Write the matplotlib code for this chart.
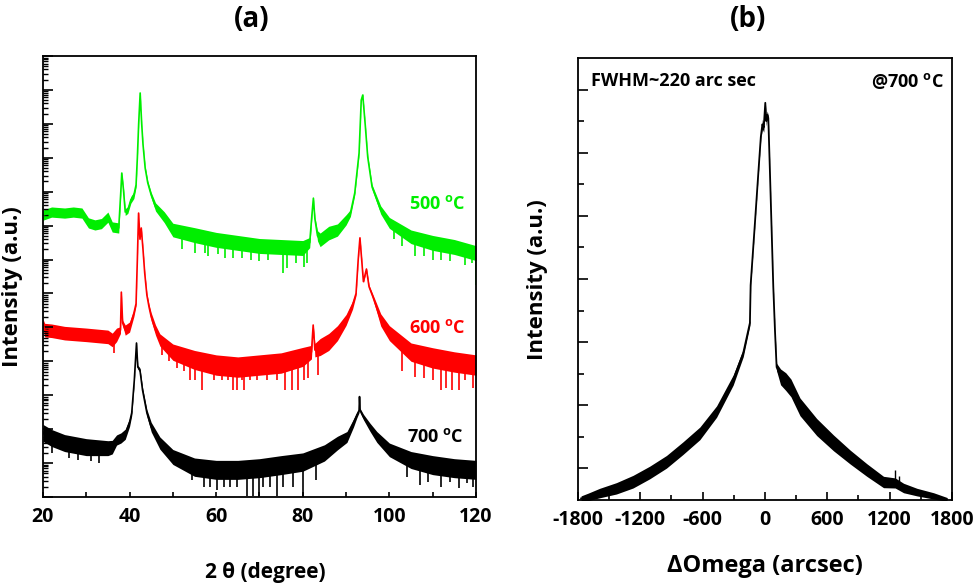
import numpy as np
import matplotlib
matplotlib.use('Agg')
import matplotlib.pyplot as plt
from matplotlib.ticker import LogLocator, NullFormatter, FixedLocator

plt.rcParams['font.family'] = ['Open Sans', 'DejaVu Sans']
plt.rcParams['font.weight'] = 'bold'
plt.rcParams['axes.unicode_minus'] = False
plt.rcParams['mathtext.fontset'] = 'custom'
plt.rcParams['mathtext.bf'] = 'Open Sans:bold'
plt.rcParams['mathtext.rm'] = 'Open Sans:bold'

# ---------------- Panel (a): XRD, log10 intensity (decades) ----------------
g_x = [20, 22, 25, 27, 29, 30.5, 32, 33.5, 35, 36, 37.5, 38.0, 38.2, 38.6, 39.0,
       39.6, 40.3, 41.0, 41.5, 41.8, 42.1, 42.45, 42.8, 43.1, 43.6, 44.2, 45, 46, 48, 50,
       55, 60, 65, 70, 75, 80, 81.6, 82.1, 82.45, 82.8, 83.4, 84, 86, 88, 90,
       91, 92, 93.0, 93.5, 93.85, 94.46, 95, 96, 98, 100, 105, 110, 115, 120]
g_m = [8.31, 8.40, 8.37, 8.40, 8.37, 8.08, 8.02, 8.06, 8.25, 7.96, 7.93, 9.05, 9.55, 9.05, 8.40,
       8.46, 8.76, 8.90, 9.20, 10.0, 11.0, 11.91, 11.0, 10.4, 9.7, 9.26, 8.90, 8.55, 8.25, 7.87,
       7.72, 7.58, 7.49, 7.40, 7.37, 7.34, 7.50, 8.30, 8.81, 8.20, 7.70, 7.58, 7.78, 7.87, 8.17,
       8.37, 8.96, 10.14, 11.70, 11.85, 10.91, 10.02, 9.14, 8.46, 8.08, 7.67, 7.49, 7.37, 7.19]
g_h = [0.15, 0.15, 0.15, 0.15, 0.15, 0.15, 0.15, 0.15, 0.15, 0.15, 0.15, 0.05, 0.04, 0.05, 0.1,
       0.1, 0.1, 0.1, 0.07, 0.04, 0.04, 0.04, 0.04, 0.04, 0.05, 0.06, 0.08, 0.12, 0.16, 0.2,
       0.22, 0.22, 0.22, 0.22, 0.22, 0.22, 0.15, 0.06, 0.04, 0.06, 0.15, 0.2, 0.2, 0.18, 0.15,
       0.1, 0.06, 0.04, 0.04, 0.04, 0.04, 0.05, 0.07, 0.12, 0.16, 0.2, 0.22, 0.22, 0.22]
g_sx = [52, 55, 57.5, 58, 60.5, 62, 64, 66, 68, 70, 72, 75.5, 76.3, 78.5, 80.2, 81,
        101, 103, 106, 108, 110, 112, 114, 117.5, 119, 120]
g_st = [7.8, 7.72, 7.65, 7.64, 7.57, 7.55, 7.5, 7.47, 7.43, 7.4, 7.39, 7.37, 7.36, 7.35, 7.36, 7.42,
        8.0, 7.85, 7.63, 7.56, 7.49, 7.44, 7.39, 7.28, 7.22, 7.19]
g_sb = [7.3, 7.2, 7.2, 7.1, 7.15, 7.05, 7.05, 7.05, 7.0, 6.95, 7.0, 6.6, 6.75, 6.9, 6.78, 6.9,
        7.6, 7.4, 7.1, 7.1, 7.0, 7.0, 6.95, 6.85, 6.9, 6.25]

r_x = [20, 20.4, 22, 25, 30, 35, 36, 37, 37.9, 38.1, 38.4, 39, 40, 41, 41.5,
       41.8, 42.08, 42.4, 42.7, 43.1, 43.5, 44, 44.5, 45, 46, 47, 50, 55, 60, 65,
       70, 75, 80, 82, 82.4, 82.8, 84, 86, 88, 90, 91.5, 92.3, 92.8, 93.2, 93.6,
       94.0, 94.7, 95.3, 96.2, 97, 98, 100, 105, 110, 115, 120]
r_m = [5.13, 4.92, 4.90, 4.83, 4.78, 4.72, 4.63, 4.78, 4.92, 6.04, 5.13, 4.92, 5.01, 5.42, 5.7,
       7.0, 8.37, 7.6, 7.93, 7.3, 6.6, 5.95, 5.6, 5.31, 4.92, 4.63, 4.27, 4.04, 3.89, 3.83,
       3.89, 3.95, 4.13, 4.27, 5.07, 4.33, 4.42, 4.57, 4.83, 5.22, 5.66, 6.0, 7.0, 7.64, 7.0,
       6.35, 6.72, 6.2, 5.9, 5.60, 5.22, 4.83, 4.27, 4.10, 3.98, 3.89]
r_h = [0.12, 0.2, 0.2, 0.2, 0.2, 0.2, 0.2, 0.2, 0.1, 0.03, 0.08, 0.15, 0.15, 0.1, 0.06,
       0.04, 0.04, 0.04, 0.04, 0.04, 0.05, 0.06, 0.08, 0.12, 0.15, 0.18, 0.24, 0.28, 0.3, 0.3,
       0.3, 0.3, 0.28, 0.2, 0.04, 0.2, 0.25, 0.25, 0.22, 0.16, 0.12, 0.06, 0.04, 0.04, 0.04,
       0.04, 0.04, 0.05, 0.07, 0.12, 0.18, 0.22, 0.27, 0.3, 0.3, 0.3]
r_sx = [36.3, 47.5, 49, 51, 52.5, 54, 55.1, 56.7, 59.4, 61.3, 62.8, 64, 64.8, 65.9, 66.5,
        67.8, 69.4, 71.7, 74, 75.9, 77.5, 79, 80.2, 81.3, 83.6,
        103, 106, 108, 110, 112, 113, 114.5, 116, 117.5, 119.4]
r_st = [4.68, 4.55, 4.37, 4.22, 4.15, 4.08, 4.03, 3.99, 3.91, 3.87, 3.85, 3.84, 3.83, 3.84, 3.85,
        3.86, 3.88, 3.91, 3.94, 3.96, 4.02, 4.08, 4.14, 4.2, 4.39,
        4.5, 4.24, 4.17, 4.10, 4.05, 4.03, 3.99, 3.96, 3.93, 3.9]
r_sb = [4.24, 4.2, 4.0, 3.8, 3.7, 3.45, 3.45, 3.15, 3.45, 3.45, 3.45, 3.15, 3.15, 3.45, 3.15,
        3.45, 3.45, 3.45, 3.45, 3.15, 3.15, 3.15, 3.45, 3.5, 3.6,
        3.7, 3.55, 3.5, 3.45, 3.15, 3.2, 3.15, 3.15, 3.45, 3.2]

k_x = [20, 22, 25, 30, 35, 36, 37, 38, 39, 40, 40.5, 41.1, 41.6, 41.9, 42.4,
       43, 44, 45, 47, 50, 55, 60, 65, 70, 75, 80, 85, 88, 90.2, 91.7,
       92.5, 93.0, 93.1, 93.25, 94, 95.5, 97.1, 100, 105, 110, 115, 120]
k_m = [1.89, 1.74, 1.59, 1.47, 1.44, 1.47, 1.68, 1.74, 1.85, 2.2, 2.48, 3.45, 4.54, 3.83, 3.74,
       3.15, 2.48, 2.06, 1.59, 1.18, 0.88, 0.80, 0.80, 0.85, 0.94, 1.03, 1.30, 1.59, 1.77, 2.18,
       2.42, 2.55, 2.96, 2.55, 2.36, 2.06, 1.77, 1.39, 1.09, 0.94, 0.85, 0.80]
k_h = [0.25, 0.25, 0.25, 0.25, 0.22, 0.2, 0.15, 0.15, 0.15, 0.12, 0.08, 0.06, 0.04, 0.06, 0.06,
       0.08, 0.1, 0.14, 0.18, 0.22, 0.27, 0.28, 0.28, 0.28, 0.28, 0.27, 0.24, 0.2, 0.16, 0.12,
       0.08, 0.06, 0.03, 0.06, 0.08, 0.12, 0.16, 0.2, 0.25, 0.28, 0.28, 0.28]
k_sx = [22, 26, 28, 31, 33, 54.4, 57.1, 58.6, 60.1, 61.7, 63.2, 64.8, 67.1, 68.6, 69.8,
        70.9, 72.5, 74, 75.5, 77.8, 80.1, 83, 104, 107, 109, 112, 114, 116, 118, 119.4]
k_st = [1.74, 1.57, 1.52, 1.46, 1.45, 0.92, 0.85, 0.82, 0.80, 0.80, 0.80, 0.80, 0.82, 0.84, 0.85,
        0.87, 0.9, 0.92, 0.95, 0.99, 1.03, 1.19, 1.15, 1.03, 0.97, 0.9, 0.87, 0.84, 0.82, 0.8]
k_sb = [1.3, 1.15, 1.1, 1.05, 1.0, 0.5, 0.3, 0.3, 0.2, 0.3, 0.3, 0.3, 0.02, 0.02, 0.02,
        0.3, 0.3, 0.02, 0.3, 0.3, 0.02, 0.5, 0.6, 0.35, 0.45, 0.3, 0.45, 0.27, 0.4, 0.3]

a_xticks = [20, 40, 60, 80, 100, 120]
a_labels = ['500 $^{\\mathbf{o}}$C', '600 $^{\\mathbf{o}}$C', '700 $^{\\mathbf{o}}$C']

# ---------------- Panel (b): rocking curve ----------------
w_x = [-1770, -1700, -1591, -1430, -1270, -1110, -948, -790, -627, -466,
       -306, -209, -145, -138, -96, -64, -40, -25, -12, 3,
       12, 22, 32, 48, 80, 96, 112, 150, 200, 250,
       273, 337, 498, 659, 820, 980, 1141, 1253, 1334, 1463, 1623, 1752]
w_m = [0.05, 0.1, 0.22, 0.37, 0.58, 0.87, 1.21, 1.64, 2.11, 2.80,
       3.80, 4.66, 5.61, 6.81, 8.81, 10.36, 11.5, 11.9, 11.8, 12.58,
       12.0, 12.2, 12.1, 10.36, 6.75, 5.38, 4.21, 3.90, 3.75, 3.55,
       3.39, 2.95, 2.31, 1.81, 1.36, 0.95, 0.57, 0.54, 0.38, 0.25, 0.13, 0.02]
w_h = [0.08, 0.12, 0.15, 0.18, 0.2, 0.2, 0.2, 0.2, 0.2, 0.18,
       0.16, 0.12, 0.08, 0.05, 0.04, 0.04, 0.06, 0.15, 0.15, 0.05,
       0.15, 0.12, 0.06, 0.04, 0.04, 0.06, 0.12, 0.25, 0.28, 0.28,
       0.28, 0.28, 0.27, 0.25, 0.22, 0.2, 0.18, 0.16, 0.15, 0.12, 0.1, 0.06]
w_sx = [1253, 1290]
w_st = [0.95, 0.75]
w_sb = [0.5, 0.45]
b_xticks = [-1800, -1200, -600, 0, 600, 1200, 1800]

GREEN = '#00ee00'
RED = '#ff0000'
BLACK = '#000000'

fig = plt.figure(figsize=(9.74, 5.87), dpi=100)
axa = fig.add_axes([0.0441, 0.1533, 0.4446, 0.7513])
axb = fig.add_axes([0.5934, 0.1482, 0.3840, 0.7530])


def draw_log(ax, x, m, h, sx, st, sb, color):
    x = np.asarray(x, float); m = np.asarray(m, float); h = np.asarray(h, float)
    ax.fill_between(x, 10 ** (m - h), 10 ** (m + h), color=color, lw=0)
    ax.plot(x, 10 ** m, color=color, lw=1.2)
    ax.vlines(sx, 10 ** np.asarray(sb), 10 ** np.asarray(st), color=color, lw=1.2)


draw_log(axa, g_x, g_m, g_h, g_sx, g_st, g_sb, GREEN)
draw_log(axa, r_x, r_m, r_h, r_sx, r_st, r_sb, RED)
draw_log(axa, k_x, k_m, k_h, k_sx, k_st, k_sb, BLACK)

axa.set_yscale('log')
axa.set_ylim(1, 1e13)
axa.set_xlim(20, 120)
axa.yaxis.set_major_locator(LogLocator(base=10, numticks=30))
axa.yaxis.set_minor_locator(LogLocator(base=10, subs=np.arange(2, 10), numticks=30))
axa.yaxis.set_major_formatter(NullFormatter())
axa.yaxis.set_minor_formatter(NullFormatter())
axa.set_xticks(a_xticks)
axa.xaxis.set_minor_locator(FixedLocator([30, 50, 70, 90, 110]))
axa.tick_params(axis='y', which='major', direction='in', length=7, width=1.2, right=False)
axa.tick_params(axis='y', which='minor', direction='in', length=3.5, width=1.0, right=False)
axa.tick_params(axis='x', which='major', direction='in', length=3.8, width=1.2, top=False,
                pad=7, labelsize=14)
axa.tick_params(axis='x', which='minor', direction='in', length=3.5, width=1.2, top=False)

axa.text(117.6, 10 ** 8.64, a_labels[0], color=GREEN, ha='right', va='center', fontsize=13, fontweight='bold')
axa.text(117.6, 10 ** 4.98, a_labels[1], color=RED, ha='right', va='center', fontsize=13, fontweight='bold')
axa.text(117.2, 10 ** 1.77, a_labels[2], color=BLACK, ha='right', va='center', fontsize=13, fontweight='bold')

# panel b
wx = np.asarray(w_x, float); wm = np.asarray(w_m, float); wh = np.asarray(w_h, float)
axb.fill_between(wx, wm - wh, wm + wh, color=BLACK, lw=0)
axb.plot(wx, wm, color=BLACK, lw=1.3)
axb.vlines(w_sx, w_sb, w_st, color=BLACK, lw=1.0)
axb.set_xlim(-1800, 1800)
axb.set_ylim(0, 14)
axb.set_xticks(b_xticks)
axb.xaxis.set_minor_locator(FixedLocator([-1500, -900, -300, 300, 900, 1500]))
axb.yaxis.set_major_locator(FixedLocator([1, 3, 5, 7, 9, 11, 13]))
axb.yaxis.set_minor_locator(FixedLocator([2, 4, 6, 8, 10, 12]))
axb.yaxis.set_major_formatter(NullFormatter())
axb.tick_params(axis='y', which='major', direction='in', length=7, width=1.2, right=False)
axb.tick_params(axis='y', which='minor', direction='in', length=4.3, width=1.2, right=False)
axb.tick_params(axis='x', which='major', direction='in', length=5.8, width=1.2, top=False,
                pad=7, labelsize=14)
axb.tick_params(axis='x', which='minor', direction='in', length=3.6, width=1.2, top=False)
axb.text(-1678, 13.27, 'FWHM~220 arc sec', ha='left', va='center', fontsize=13, fontweight='bold')
axb.text(1726, 13.27, '@700 $^{\\mathbf{o}}$C', ha='right', va='center', fontsize=13, fontweight='bold')

for ax in (axa, axb):
    for sp in ax.spines.values():
        sp.set_linewidth(1.3)
    for lab in ax.get_xticklabels():
        lab.set_fontweight('bold')

fig.text(0.2587, 0.966, '(a)', ha='center', va='center', fontsize=20, fontweight='bold')
fig.text(0.768, 0.966, '(b)', ha='center', va='center', fontsize=20, fontweight='bold')
fig.text(0.0133, 0.512, 'Intensity (a.u.)', rotation=90, ha='center', va='center', fontsize=16, fontweight='bold')
fig.text(0.552, 0.523, 'Intensity (a.u.)', rotation=90, ha='center', va='center', fontsize=16, fontweight='bold')
fig.text(0.272, 0.024, '2 θ (degree)', ha='center', va='center', fontsize=15, fontweight='bold')
fig.text(0.785, 0.036, 'ΔOmega (arcsec)', ha='center', va='center', fontsize=17, fontweight='bold')

fig.savefig('out.png', dpi=100)
